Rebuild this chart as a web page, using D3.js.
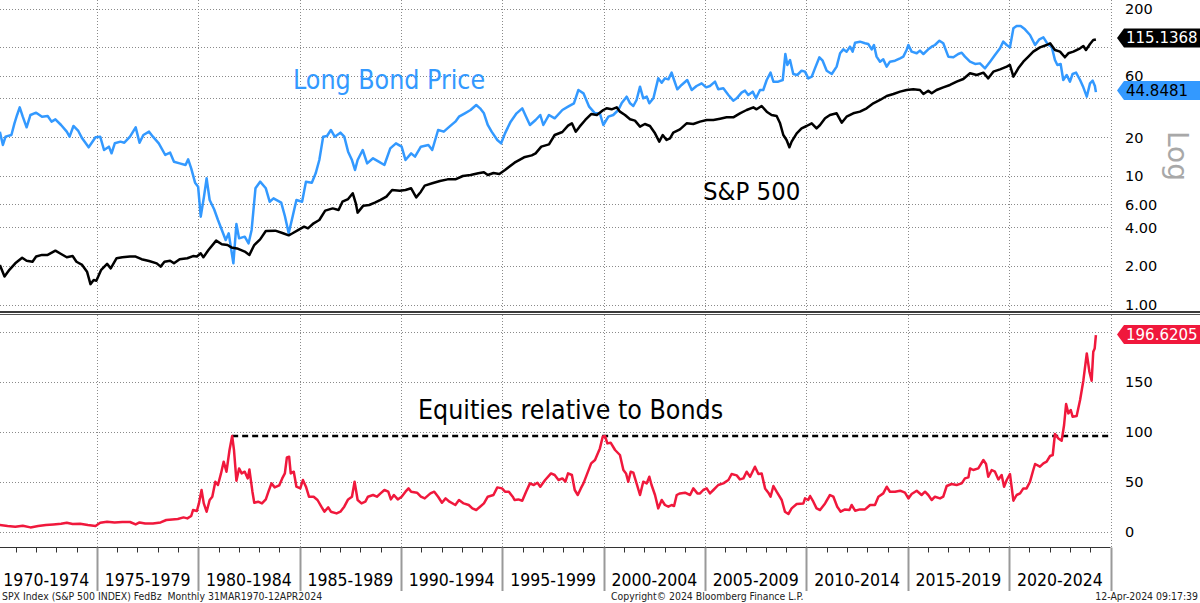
<!DOCTYPE html>
<html><head><meta charset="utf-8">
<script src="https://cdn.jsdelivr.net/npm/d3@7"></script>
<style>
html,body{margin:0;padding:0;background:#fff;}
svg{display:block;font-family:"DejaVu Sans",sans-serif;}
.cond{font-family:"DejaVu Sans Condensed","DejaVu Sans",sans-serif;}
</style></head><body>
<svg id="chart" width="1200" height="603"></svg>
<script>
// ---------- DATA ----------
const spxYears=[1970.21,1970.44,1970.68,1970.97,1971.31,1971.53,1971.82,1972.00,1972.29,1972.57,1972.95,1973.23,1973.51,1973.80,1973.99,1974.27,1974.51,1974.68,1974.84,1974.97,1975.21,1975.50,1975.68,1975.97,1976.25,1976.63,1976.91,1977.20,1977.57,1977.95,1978.14,1978.33,1978.61,1978.80,1979.08,1979.46,1979.74,1979.93,1980.12,1980.25,1980.50,1980.88,1981.16,1981.44,1981.63,1981.91,1982.29,1982.52,1982.76,1983.05,1983.33,1983.80,1984.18,1984.46,1984.65,1984.94,1985.22,1985.41,1985.69,1985.97,1986.26,1986.63,1986.92,1987.11,1987.39,1987.62,1987.77,1987.86,1988.14,1988.43,1988.71,1988.99,1989.28,1989.56,1989.94,1990.22,1990.50,1990.75,1990.98,1991.17,1991.54,1991.92,1992.30,1992.68,1993.05,1993.43,1993.81,1994.09,1994.28,1994.56,1994.85,1995.13,1995.60,1996.07,1996.45,1996.64,1996.92,1997.30,1997.58,1997.96,1998.24,1998.43,1998.62,1998.81,1999.09,1999.38,1999.66,1999.98,2000.14,2000.39,2000.64,2000.80,2001.05,2001.30,2001.54,2001.79,2002.03,2002.28,2002.53,2002.74,2002.91,2003.10,2003.27,2003.43,2003.76,2004.09,2004.42,2004.75,2005.08,2005.41,2005.74,2006.06,2006.39,2006.72,2007.05,2007.38,2007.54,2007.79,2008.04,2008.28,2008.53,2008.70,2008.86,2009.02,2009.16,2009.27,2009.52,2009.76,2010.01,2010.26,2010.50,2010.67,2010.92,2011.16,2011.49,2011.74,2011.98,2012.31,2012.64,2012.97,2013.30,2013.63,2013.96,2014.29,2014.62,2014.94,2015.27,2015.60,2015.77,2016.01,2016.18,2016.42,2016.75,2017.08,2017.41,2017.74,2018.07,2018.40,2018.73,2018.97,2019.22,2019.55,2019.88,2020.04,2020.21,2020.45,2020.70,2020.95,2021.19,2021.52,2021.85,2022.02,2022.26,2022.51,2022.75,2022.92,2023.17,2023.50,2023.66,2023.79,2023.99,2024.15,2024.28];
const spxValues=[2.03,1.65,1.86,2.09,2.31,2.19,2.15,2.36,2.43,2.43,2.62,2.47,2.33,2.38,2.15,2.03,1.80,1.44,1.55,1.53,1.86,2.07,1.91,2.29,2.33,2.36,2.36,2.25,2.18,2.09,1.97,2.15,2.19,2.09,2.25,2.29,2.38,2.36,2.50,2.33,2.65,3.14,2.94,2.90,2.78,2.73,2.58,2.43,2.90,3.21,3.73,3.75,3.58,3.45,3.58,3.80,4.03,3.91,4.28,4.54,5.37,5.59,5.43,6.30,6.61,7.32,6.12,5.18,5.87,5.94,6.19,6.50,6.90,7.77,7.68,7.77,8.01,6.81,7.54,8.40,8.76,9.13,9.40,9.40,9.98,10.16,10.47,10.66,10.16,10.53,10.35,11.12,12.67,13.95,14.45,14.98,16.88,17.60,20.80,21.95,24.58,25.63,22.08,24.15,27.21,30.29,29.76,32.54,33.53,32.94,34.14,31.59,29.76,27.54,26.89,24.15,25.33,24.44,21.43,18.46,20.80,19.02,19.59,21.69,23.02,25.63,25.33,26.41,27.21,27.21,27.86,28.54,28.54,30.66,32.54,34.14,32.94,34.96,31.59,29.76,29.23,25.63,20.80,19.02,16.68,18.46,21.43,23.44,24.44,25.63,23.44,24.88,28.03,29.76,30.66,25.94,28.88,30.66,31.59,33.53,36.67,38.93,41.82,43.35,45.19,46.56,47.12,46.56,43.35,46.01,43.85,46.56,48.84,50.92,54.04,56.68,62.77,60.90,63.51,57.37,64.66,67.42,70.70,72.86,59.10,68.60,77.30,84.60,92.50,99.90,104.2,107.4,95.3,92.5,83.6,89.8,92.5,98.2,102.3,95.3,106.1,114.0,115.1368];

const bondYears=[1970.21,1970.36,1970.49,1970.78,1970.93,1971.06,1971.19,1971.34,1971.53,1971.72,1972.00,1972.29,1972.57,1972.76,1972.95,1973.23,1973.51,1973.65,1973.84,1974.08,1974.27,1974.59,1974.93,1975.16,1975.35,1975.59,1975.72,1975.88,1976.16,1976.35,1976.63,1976.91,1977.10,1977.29,1977.57,1977.76,1978.05,1978.37,1978.61,1978.80,1979.08,1979.37,1979.50,1979.65,1979.84,1979.99,1980.12,1980.28,1980.41,1980.56,1980.78,1980.97,1981.16,1981.35,1981.50,1981.73,1981.88,1982.01,1982.29,1982.48,1982.63,1982.82,1983.05,1983.33,1983.52,1983.71,1984.09,1984.27,1984.46,1984.65,1984.84,1985.12,1985.31,1985.60,1985.79,1985.97,1986.16,1986.35,1986.54,1986.73,1987.01,1987.20,1987.39,1987.58,1987.73,1987.86,1988.11,1988.33,1988.62,1988.90,1989.18,1989.47,1989.75,1990.03,1990.22,1990.50,1990.69,1990.98,1991.35,1991.54,1991.83,1992.11,1992.39,1992.68,1992.86,1993.15,1993.43,1993.71,1993.90,1994.09,1994.28,1994.47,1994.75,1994.94,1995.13,1995.41,1995.70,1995.98,1996.17,1996.36,1996.64,1996.87,1997.02,1997.30,1997.58,1997.96,1998.24,1998.53,1998.75,1999.00,1999.28,1999.57,1999.81,1999.98,2000.23,2000.47,2000.72,2000.88,2001.13,2001.30,2001.46,2001.62,2001.79,2001.95,2002.12,2002.25,2002.45,2002.69,2002.86,2003.02,2003.19,2003.35,2003.47,2003.63,2003.84,2004.12,2004.34,2004.58,2004.83,2005.05,2005.24,2005.49,2005.65,2005.90,2006.15,2006.39,2006.56,2006.80,2006.97,2007.13,2007.35,2007.51,2007.71,2007.87,2008.04,2008.23,2008.37,2008.61,2008.83,2008.96,2009.06,2009.19,2009.35,2009.55,2009.76,2009.93,2010.09,2010.26,2010.42,2010.64,2010.80,2011.00,2011.25,2011.49,2011.66,2011.82,2011.98,2012.15,2012.28,2012.40,2012.64,2012.89,2013.05,2013.22,2013.33,2013.46,2013.63,2013.79,2013.96,2014.12,2014.37,2014.62,2014.78,2014.94,2015.03,2015.19,2015.44,2015.60,2015.77,2016.01,2016.18,2016.34,2016.56,2016.75,2017.00,2017.25,2017.49,2017.66,2017.82,2018.07,2018.32,2018.56,2018.81,2019.06,2019.30,2019.55,2019.71,2019.88,2020.04,2020.21,2020.37,2020.57,2020.78,2021.03,2021.28,2021.49,2021.69,2021.93,2022.10,2022.26,2022.38,2022.54,2022.67,2022.84,2023.00,2023.13,2023.30,2023.50,2023.66,2023.83,2023.99,2024.12,2024.23,2024.28];
const bondValues=[22.08,17.39,20.19,20.80,25.63,29.76,34.14,28.88,23.86,29.76,31.02,28.88,29.23,26.41,27.54,24.88,22.08,20.19,24.44,22.35,19.59,16.68,19.95,20.19,15.90,16.88,14.98,17.92,18.46,18.13,20.19,23.86,18.13,20.80,22.08,20.19,17.92,14.54,15.16,12.90,12.52,12.16,13.45,11.45,8.86,8.25,4.82,6.90,9.57,6.50,5.50,4.54,3.80,3.17,3.58,2.09,4.23,3.27,3.37,2.99,3.80,8.01,9.02,8.01,6.30,6.69,6.19,4.88,3.58,4.82,6.50,6.30,9.02,8.86,10.47,13.29,20.19,20.43,22.75,20.19,21.69,20.19,15.43,13.29,11.12,13.29,15.90,12.52,13.70,12.90,12.16,16.38,17.92,16.88,13.29,14.98,14.11,16.88,17.39,15.90,22.75,22.08,24.15,26.41,28.88,30.66,32.54,35.59,33.53,30.66,24.88,22.08,19.02,17.92,21.43,26.41,30.66,33.53,28.88,24.88,27.21,29.76,24.88,29.76,28.03,32.54,34.55,36.67,46.56,43.85,34.55,30.66,30.66,24.88,28.88,29.76,32.54,36.67,41.32,36.67,34.96,38.93,49.42,40.11,41.32,36.67,40.11,57.37,53.09,57.37,56.34,63.51,55.67,47.12,50.92,55.67,46.56,50.02,52.46,48.84,50.02,54.04,47.12,47.97,42.57,38.46,40.11,44.39,46.01,42.57,45.19,40.11,46.56,46.56,55.67,63.51,54.04,54.04,55.67,88.70,72.86,79.64,62.02,60.90,65.80,64.66,57.37,59.10,68.60,83.60,78.70,65.80,62.02,70.70,89.80,96.40,92.50,101.1,92.50,108.6,110.6,107.4,106.1,96.40,104.2,84.60,77.30,80.60,70.70,77.30,78.70,82.10,84.60,95.30,104.2,92.50,89.80,94.20,88.70,96.40,101.1,104.2,112.6,107.4,84.60,83.60,88.70,90.80,84.60,77.30,74.20,75.00,68.60,77.30,87.10,98.20,110.6,104.2,99.90,140.5,146.4,146.4,137.9,124.6,104.2,115.3,119.5,104.2,101.1,79.64,72.86,74.20,55.67,60.90,54.04,62.02,63.51,55.67,48.84,41.32,52.46,55.02,50.02,44.8481];

const ratioYears=[1970.21,1970.59,1970.97,1971.34,1971.72,1972.10,1972.48,1972.85,1973.23,1973.51,1973.80,1974.17,1974.55,1974.93,1975.16,1975.50,1975.87,1976.25,1976.63,1976.91,1977.10,1977.38,1977.76,1978.14,1978.42,1978.71,1978.99,1979.27,1979.46,1979.65,1979.74,1979.93,1980.03,1980.16,1980.27,1980.41,1980.56,1980.69,1980.84,1980.97,1981.12,1981.25,1981.39,1981.54,1981.67,1981.76,1981.88,1982.01,1982.14,1982.29,1982.44,1982.52,1982.67,1982.76,1982.95,1983.14,1983.33,1983.46,1983.61,1983.77,1983.99,1984.14,1984.27,1984.37,1984.48,1984.56,1984.71,1984.84,1985.03,1985.16,1985.31,1985.46,1985.69,1985.88,1986.07,1986.22,1986.41,1986.54,1986.82,1987.01,1987.20,1987.39,1987.58,1987.71,1987.86,1988.05,1988.24,1988.37,1988.62,1988.81,1988.99,1989.18,1989.37,1989.50,1989.65,1989.84,1990.03,1990.22,1990.37,1990.50,1990.79,1990.98,1991.17,1991.45,1991.64,1991.83,1992.02,1992.20,1992.39,1992.68,1992.86,1993.09,1993.34,1993.52,1993.71,1993.90,1994.09,1994.28,1994.56,1994.75,1994.98,1995.13,1995.32,1995.51,1995.60,1995.79,1995.98,1996.17,1996.36,1996.55,1996.73,1996.87,1997.11,1997.40,1997.58,1997.77,1997.96,1998.11,1998.24,1998.43,1998.57,1998.72,1998.87,1999.00,1999.19,1999.38,1999.57,1999.81,1999.95,2000.06,2000.18,2000.34,2000.56,2000.80,2000.97,2001.10,2001.21,2001.33,2001.46,2001.62,2001.79,2001.95,2002.12,2002.25,2002.36,2002.53,2002.69,2002.86,2003.02,2003.19,2003.35,2003.47,2003.60,2003.76,2004.01,2004.26,2004.42,2004.62,2004.75,2004.91,2005.08,2005.24,2005.41,2005.65,2005.90,2006.15,2006.31,2006.56,2006.72,2006.89,2007.05,2007.22,2007.46,2007.63,2007.79,2007.96,2008.12,2008.23,2008.37,2008.53,2008.78,2008.94,2009.11,2009.27,2009.52,2009.85,2009.93,2010.09,2010.18,2010.34,2010.50,2010.67,2010.92,2011.16,2011.33,2011.52,2011.69,2011.90,2012.12,2012.23,2012.40,2012.64,2012.89,2013.14,2013.38,2013.55,2013.79,2013.96,2014.12,2014.37,2014.62,2014.86,2015.03,2015.19,2015.44,2015.68,2015.85,2016.01,2016.18,2016.34,2016.59,2016.75,2016.92,2017.16,2017.41,2017.66,2017.82,2017.99,2018.07,2018.23,2018.48,2018.73,2018.86,2018.97,2019.14,2019.30,2019.47,2019.63,2019.75,2019.88,2020.04,2020.21,2020.37,2020.54,2020.70,2020.86,2021.03,2021.19,2021.28,2021.52,2021.69,2021.85,2022.02,2022.15,2022.26,2022.43,2022.59,2022.71,2022.81,2022.92,2023.04,2023.13,2023.33,2023.50,2023.66,2023.83,2023.96,2024.07,2024.15,2024.22,2024.28];
const ratioValues=[6.7,5.7,5.0,6.0,4.3,5.7,6.7,7.3,8.0,9.0,7.7,8.0,6.7,5.7,9.0,10.0,9.3,9.7,9.7,7.3,9.3,8.3,8.3,9.3,11.7,12.3,12.7,14.3,13.3,15.7,21.7,20.7,28.3,41.7,28.3,20.0,31.7,35.0,50.0,46.7,58.3,70.0,60.0,81.7,95.7,81.7,51.0,63.3,58.3,60.0,53.3,62.3,40.0,29.0,30.0,28.3,32.3,40.0,48.3,44.3,46.3,53.3,58.3,74.3,75.0,58.3,60.0,45.0,43.3,51.7,45.0,35.0,35.0,31.7,25.0,20.0,24.3,20.0,18.3,20.0,25.0,32.3,35.0,50.0,31.7,28.3,30.0,35.0,36.7,35.0,38.3,41.7,40.0,32.3,36.7,32.3,35.0,40.0,43.3,40.0,39.0,35.0,33.3,38.3,40.0,35.0,29.0,33.3,30.0,26.7,31.7,28.3,26.7,23.3,21.7,25.0,28.3,35.0,36.7,44.3,43.3,40.0,40.0,35.0,31.7,32.3,31.0,40.0,48.3,46.7,49.0,45.0,51.7,58.3,56.7,51.7,53.3,50.0,58.3,56.7,41.7,36.7,43.3,48.3,58.3,68.3,71.7,83.3,95.0,95.7,88.3,89.0,81.7,76.7,61.7,58.3,50.0,60.0,59.0,48.3,36.7,50.0,48.3,55.0,46.7,36.7,23.3,31.7,26.7,25.0,26.7,25.7,36.7,38.3,39.0,36.7,43.3,38.3,38.3,41.7,43.3,38.3,41.7,46.7,48.3,51.7,57.7,56.3,52.3,53.3,60.0,55.0,65.0,57.7,58.3,43.3,39.0,35.0,45.7,40.0,31.7,20.0,17.7,23.3,27.7,28.3,33.3,31.7,35.7,30.0,23.3,21.7,28.3,36.7,35.0,25.0,20.0,22.3,21.7,26.7,21.0,22.3,22.3,26.7,26.7,35.0,38.3,45.0,40.0,40.0,41.0,39.0,33.3,37.7,41.0,36.7,40.0,36.7,31.7,35.0,33.3,35.0,45.7,47.7,46.7,48.3,53.3,54.3,63.3,61.7,63.3,71.7,67.7,55.0,61.7,60.0,52.3,56.7,45.0,51.7,57.7,31.0,36.7,38.3,43.3,43.3,50.0,61.7,67.7,65.0,68.3,70.0,75.7,76.7,97.7,93.3,91.0,106.7,127.7,118.3,121.7,115.0,115.7,131.7,151.0,178.3,160.0,151.0,180.0,183.3,196.6205];

const topTicks=[1,2,4,6,10,20,40,60,100,200];
const topTickLabels=["1.00","2.00","4.00","6.00","10","20","40","60","100","200"];
const bottomTicks=[0,50,100,150,200];
const bottomTickLabels=["0","50","100","150","200"];
const periodStarts=[1970,1975,1980,1985,1990,1995,2000,2005,2010,2015,2020];
const periodLabels=["1970-1974","1975-1979","1980-1984","1985-1989","1990-1994","1995-1999","2000-2004","2005-2009","2010-2014","2015-2019","2020-2024"];
const peakLevel=95.7, peakStart=1981.67, peakEnd=2024.95;

// ---------- SCALES ----------
const svg=d3.select("#chart");
const W=1200, plotR=1110.5;
const x=d3.scaleLinear().domain([1970,2025]).range([-4.4,1110.5]);
const yTop=d3.scaleLog().domain([1,100]).range([304.5,47.3]);
const yBot=d3.scaleLinear().domain([0,200]).range([531.7,331.7]);
const topArea={y0:0,y1:311}, botArea={y0:315,y1:547.5};

svg.append("rect").attr("width",W).attr("height",603).attr("fill","#fff");

const defs=svg.append("defs");
defs.append("clipPath").attr("id","clipTop").append("rect").attr("x",0).attr("y",0).attr("width",1110).attr("height",311);
defs.append("clipPath").attr("id","clipBot").append("rect").attr("x",0).attr("y",315).attr("width",1110).attr("height",232);

const gridColor="#8a8a8a";
const grid=svg.append("g").attr("stroke",gridColor).attr("stroke-width",1).attr("stroke-dasharray","1,2");
grid.selectAll(".ht").data(topTicks).join("line")
  .attr("x1",0).attr("x2",plotR).attr("y1",d=>Math.round(yTop(d))+0.5).attr("y2",d=>Math.round(yTop(d))+0.5);
grid.selectAll(".hb").data(bottomTicks).join("line").attr("class","hb")
  .attr("x1",0).attr("x2",plotR).attr("y1",d=>Math.round(yBot(d))+0.5).attr("y2",d=>Math.round(yBot(d))+0.5);
const vYears=periodStarts.slice(1).concat([2025]);
vYears.forEach(yr=>{
  const xx=Math.round(x(yr))+0.5;
  grid.append("line").attr("x1",xx).attr("x2",xx).attr("y1",0).attr("y2",topArea.y1);
  grid.append("line").attr("x1",xx).attr("x2",xx).attr("y1",botArea.y0).attr("y2",botArea.y1);
});

// ---------- LINES ----------
const zip=(a,b)=>a.map((v,i)=>[v,b[i]]);
const lineTop=d3.line().x(d=>x(d[0])).y(d=>yTop(d[1]));
const lineBot=d3.line().x(d=>x(d[0])).y(d=>yBot(d[1]));
const gTop=svg.append("g").attr("clip-path","url(#clipTop)");
gTop.append("path").datum(zip(bondYears,bondValues)).attr("d",lineTop)
  .attr("fill","none").attr("stroke","#3399ff").attr("stroke-width",2.5).attr("stroke-linejoin","round");
gTop.append("path").datum(zip(spxYears,spxValues)).attr("d",lineTop)
  .attr("fill","none").attr("stroke","#000").attr("stroke-width",2.5).attr("stroke-linejoin","round");

const gBot=svg.append("g").attr("clip-path","url(#clipBot)");
gBot.append("line").attr("x1",x(peakStart)).attr("x2",x(peakEnd)).attr("y1",yBot(peakLevel)).attr("y2",yBot(peakLevel))
  .attr("stroke","#000").attr("stroke-width",2.5).attr("stroke-dasharray","6,4");
gBot.append("path").datum(zip(ratioYears,ratioValues)).attr("d",lineBot)
  .attr("fill","none").attr("stroke","#f0183c").attr("stroke-width",2.5).attr("stroke-linejoin","round");

// ---------- ANNOTATIONS ----------
svg.append("text").attr("class","cond").attr("x",293).attr("y",89).attr("font-size",26.5).attr("fill","#3399ff").text("Long Bond Price");
svg.append("text").attr("class","cond").attr("x",703).attr("y",200).attr("font-size",25.5).attr("fill","#000").text("S&P 500");
svg.append("text").attr("class","cond").attr("x",418).attr("y",419).attr("font-size",26.5).attr("fill","#000").text("Equities relative to Bonds");

// ---------- PANEL SEPARATOR ----------
svg.append("line").attr("x1",0).attr("x2",W).attr("y1",312).attr("y2",312).attr("stroke","#3a3a3a").attr("stroke-width",2);
svg.append("line").attr("x1",0).attr("x2",W).attr("y1",314.5).attr("y2",314.5).attr("stroke","#555").attr("stroke-width",1);

// ---------- X AXIS ----------
const axY=547.5;
svg.append("line").attr("x1",0).attr("x2",plotR).attr("y1",axY).attr("y2",axY).attr("stroke","#333").attr("stroke-width",1);
const years=d3.range(1971,2025);
svg.append("g").selectAll("line").data(years).join("line")
  .attr("x1",d=>Math.round(x(d))+0.5).attr("x2",d=>Math.round(x(d))+0.5).attr("y1",axY).attr("y2",axY+5)
  .attr("stroke","#333").attr("stroke-width",1);
svg.append("g").selectAll("line").data(vYears).join("line")
  .attr("x1",d=>Math.round(x(d))+0.5).attr("x2",d=>Math.round(x(d))+0.5).attr("y1",axY).attr("y2",591)
  .attr("stroke","#999").attr("stroke-width",2);
svg.append("g").selectAll("text").data(periodStarts).join("text").attr("class","cond")
  .attr("x",d=>x(d+2.5)).attr("y",585.5).attr("text-anchor","middle").attr("font-size",17.5).attr("fill","#000")
  .text((d,i)=>periodLabels[i]);

// ---------- Y TICK LABELS (those under the value tags are hidden by them, as in the original) ----------
const tagTop=[yTop(spxValues[spxValues.length-1])-1.5, yTop(bondValues[bondValues.length-1])-1.5];
const tagBot=yBot(ratioValues[ratioValues.length-1])-0.5;
svg.append("g").selectAll("text").data(topTicks.filter(d=>tagTop.every(t=>Math.abs(yTop(d)-t)>12))).join("text")
  .attr("x",1125).attr("y",d=>yTop(d)+5.5).attr("font-size",14.5).attr("fill","#000").text(d=>topTickLabels[topTicks.indexOf(d)]);
svg.append("g").selectAll("text").data(bottomTicks.filter(d=>Math.abs(yBot(d)-tagBot)>12)).join("text")
  .attr("x",1125).attr("y",d=>yBot(d)+5.5).attr("font-size",14.5).attr("fill","#000").text(d=>bottomTickLabels[bottomTicks.indexOf(d)]);

svg.append("text").attr("transform","translate(1168,131) rotate(90)").attr("font-size",28).attr("fill","#a8a8a8").text("Log");

// ---------- LAST VALUE TAGS ----------
function tag(yc,val,fill,tc){
  const g=svg.append("g");
  const h=9.5;
  g.append("path").attr("d",`M1117,${yc} L1124,${yc-h} L1200,${yc-h} L1200,${yc+h} L1124,${yc+h} Z`).attr("fill",fill);
  g.append("text").attr("x",1126).attr("y",yc+5.5).attr("font-size",15).attr("fill",tc).text(val.toFixed(4));
}
tag(tagTop[0],spxValues[spxValues.length-1],"#000","#fff");
tag(tagTop[1],bondValues[bondValues.length-1],"#3399ff","#000");
tag(tagBot,ratioValues[ratioValues.length-1],"#f0183c","#fff");

// ---------- FOOTER ----------
svg.append("text").attr("class","cond").attr("x",2).attr("y",600).attr("font-size",10.4).attr("fill","#222").style("white-space","pre").text("SPX Index (S&P 500 INDEX) FedBz  Monthly 31MAR1970-12APR2024");
svg.append("text").attr("class","cond").attr("x",611).attr("y",600).attr("font-size",10.4).attr("fill","#222").text("Copyright\u00A9 2024 Bloomberg Finance L.P.");
svg.append("text").attr("class","cond").attr("x",1198).attr("y",600).attr("text-anchor","end").attr("font-size",10.4).attr("fill","#222").text("12-Apr-2024 09:17:39");
</script>
</body></html>
